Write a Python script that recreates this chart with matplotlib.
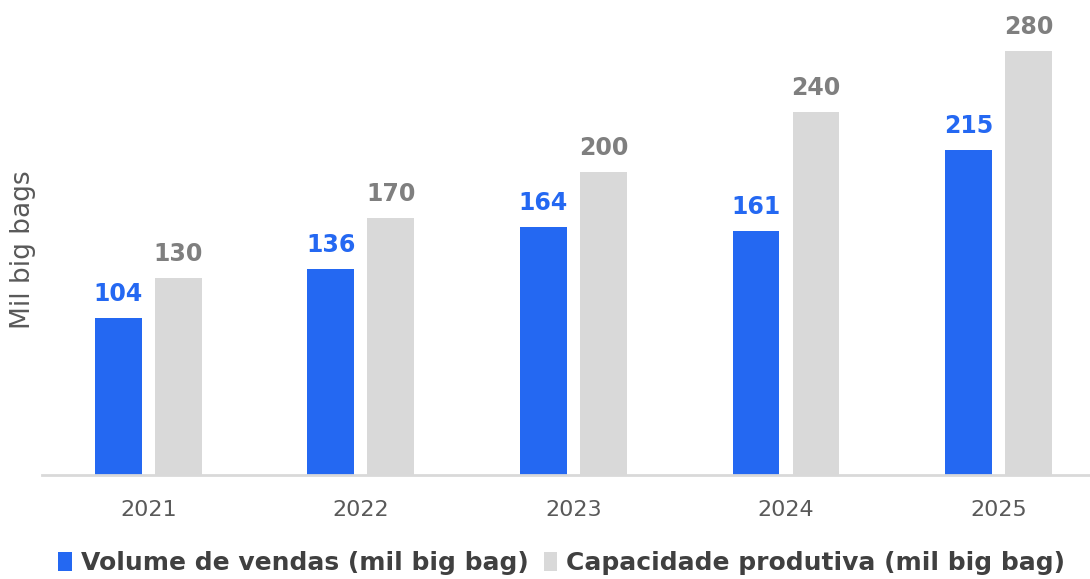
import matplotlib
matplotlib.use("Agg")
import matplotlib.pyplot as plt
import numpy as np

years = ["2021", "2022", "2023", "2024", "2025"]
vendas = [104, 136, 164, 161, 215]
capacidade = [130, 170, 200, 240, 280]
labels = ["Volume de vendas (mil big bag)", "Capacidade produtiva (mil big bag)"]

blue = "#2468F2"
gray = "#D9D9D9"

plt.rcParams["font.family"] = ["DejaVu Sans"]

fig = plt.figure(figsize=(10.9, 5.79), dpi=100)
ax = fig.add_axes([0.0385, 0.1796, 0.9615, 0.7854])

x = np.arange(len(years))
w = 0.22
off = 0.141
b1 = ax.bar(x - off, vendas, w, color=blue, label=labels[0])
b2 = ax.bar(x + off, capacidade, w, color=gray, label=labels[1])

for rect, v in zip(b1, vendas):
    ax.text(rect.get_x() + rect.get_width() / 2, v + 8, str(v), ha="center", va="bottom",
            color=blue, fontsize=17, fontweight="bold")
for rect, v in zip(b2, capacidade):
    ax.text(rect.get_x() + rect.get_width() / 2, v + 8, str(v), ha="center", va="bottom",
            color="#7F7F7F", fontsize=17, fontweight="bold")

ax.set_xlim(-0.5, 4.43)
ax.set_ylim(0, 300.5)
ax.set_xticks(x)
ax.set_xticklabels(years, fontsize=16, color="#595959")
ax.tick_params(axis="x", length=0, pad=18)
ax.set_yticks([])
for s in ["top", "right", "left"]:
    ax.spines[s].set_visible(False)
ax.spines["bottom"].set_color(gray)
ax.spines["bottom"].set_linewidth(2)

fig.text(0.021, 0.568, "Mil big bags", rotation=90, ha="center", va="center",
         fontsize=19, color="#595959")

fig.legend(handles=[b1, b2], loc="center left", bbox_to_anchor=(0.033, 0.028), ncol=2,
           frameon=False, handlelength=0.55, handleheight=0.8, handletextpad=0.35,
           columnspacing=0.6, prop={"size": 18, "weight": "bold"},
           labelcolor="#404040")

fig.savefig("out.png", dpi=100)
